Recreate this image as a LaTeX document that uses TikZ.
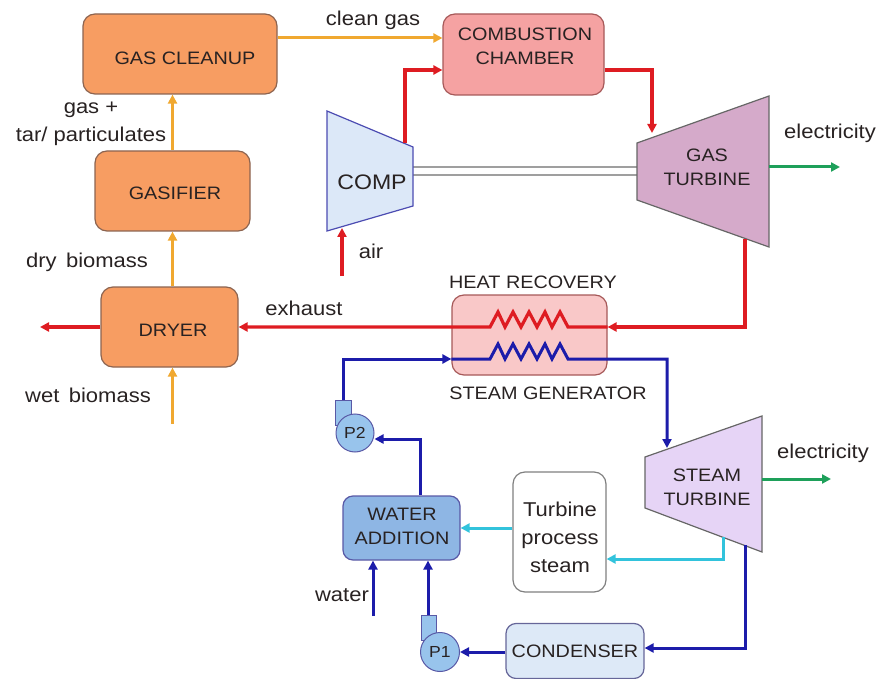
\documentclass[tikz,border=0pt]{standalone}
\usepackage{fontspec}
\setmainfont{Liberation Sans}[FakeStretch=1.1]
\usetikzlibrary{arrows.meta,calc}
\definecolor{orfill}{RGB}{247,157,98}
\definecolor{orline}{RGB}{140,100,80}
\definecolor{orflow}{RGB}{240,168,48}
\definecolor{redflow}{RGB}{222,28,34}
\definecolor{blueflow}{RGB}{28,28,170}
\definecolor{cyanflow}{RGB}{50,195,220}
\definecolor{greenflow}{RGB}{30,160,90}
\definecolor{combfill}{RGB}{245,162,162}
\definecolor{hrsgfill}{RGB}{249,200,200}
\definecolor{compfill}{RGB}{220,232,248}
\definecolor{gtfill}{RGB}{213,170,202}
\definecolor{stfill}{RGB}{230,212,246}
\definecolor{wafill}{RGB}{142,182,228}
\definecolor{condfill}{RGB}{221,233,247}
\definecolor{pumpfill}{RGB}{152,196,236}
\definecolor{txt}{RGB}{40,34,34}
\begin{document}
\begin{tikzpicture}[x=1pt,y=-1pt,
  boxtext/.style={font=\fontsize{18}{24}\selectfont, text=txt, align=center},
  lbl/.style={font=\fontsize{20}{24}\selectfont, text=txt, align=center},
  blk/.style={draw=orline, line width=1.2pt, rounded corners=12pt, inner sep=0pt, boxtext},
  tip/.style={-{Triangle[length=9pt,width=9pt]}},
  oflow/.style={draw=orflow, line width=3pt, tip},
  rflow/.style={draw=redflow, line width=3.2pt, tip},
  bflow/.style={draw=blueflow, line width=3pt, tip},
  cflow/.style={draw=cyanflow, line width=3pt, tip},
  gflow/.style={draw=greenflow, line width=3pt, tip},
  pump/.style={circle, draw=gray!70!blue, line width=1pt, fill=pumpfill, minimum size=38pt, inner sep=0pt, font=\fontsize{16}{18}\selectfont, text=txt}
]
\useasboundingbox (0,0) rectangle (881,679);

% boxes
\node[blk, fill=orfill, minimum width=194pt, minimum height=80pt] (cleanup) at (180,54) {};
\node[boxtext] (cleanuptxt) at (185,58) {GAS CLEANUP};
\node[blk, fill=orfill, minimum width=155pt, minimum height=80pt] (gasifier) at (172.5,191) {};
\node[boxtext] (gasifiertxt) at (175,193) {GASIFIER};
\node[blk, fill=orfill, minimum width=137pt, minimum height=80pt] (dryer) at (169.5,327) {};
\node[boxtext] (dryertxt) at (173,330) {DRYER};
\node[blk, draw=red!30!gray, fill=combfill, minimum width=161pt, minimum height=81pt] (comb) at (523.5,54.5) {};
\node[boxtext] (combtxt) at (525,46) {COMBUSTION\\CHAMBER};
\node[blk, draw=red!30!gray, fill=hrsgfill, minimum width=155pt, minimum height=80pt] (hrsg) at (529.5,335) {};
\node[blk, draw=gray, fill=white, minimum width=93pt, minimum height=120pt] (tps) at (559.5,532) {};
\node[boxtext, font=\fontsize{20}{28}\selectfont] (tpstxt) at (560,537) {Turbine\\process\\steam};
\node[blk, draw=blue!30!gray, fill=wafill, rounded corners=10pt, minimum width=117pt, minimum height=64pt] (wa) at (401.5,528) {};
\node[boxtext] (watxt) at (402,526) {WATER\\ADDITION};
\node[blk, draw=blue!20!gray, fill=condfill, rounded corners=10pt, minimum width=138pt, minimum height=55pt] (cond) at (575,651) {};
\node[boxtext] (condtxt) at (575,651) {CONDENSER};

% shaft
\draw[draw=gray!75, line width=1.6pt, double=white, double distance=6pt] (413,171) -- (637,171);

% compressor
\draw[draw=gray!60!blue, line width=1.2pt, fill=compfill] (327,111) -- (413,147) -- (413,206) -- (327,231) -- cycle;
\node[font=\fontsize{21}{24}\selectfont, text=txt] (comp) at (372,182) {COMP};
% gas turbine
\draw[draw=gray!80!black, line width=1.2pt, fill=gtfill] (637,143) -- (769,96) -- (769,247) -- (637,200) -- cycle;
\node[boxtext] (gt) at (707,167) {GAS\\TURBINE};
% steam turbine
\draw[draw=gray!80!black, line width=1.2pt, fill=stfill] (645,457) -- (762,416) -- (762,552) -- (645,508) -- cycle;
\node[boxtext] (st) at (707,487) {STEAM\\TURBINE};

% named attachment points
\coordinate (comptop) at (405,143);
\coordinate (compbot) at (342,228);
\coordinate (airin) at (342,276);
\coordinate (gttop) at (652,133);
\coordinate (gtbot) at (745,239);
\coordinate (gtout) at (769,167);
\coordinate (gtel) at (840,167);
\coordinate (sttop) at (667,448);
\coordinate (stout) at (762,479);
\coordinate (stel) at (831,479);
\coordinate (stbotc) at (723,537);
\coordinate (stbotb) at (745,545);
\coordinate (dryerout) at (40,327);
\coordinate (wetin) at (172.5,424);
\coordinate (waterin) at (373,616);

% pumps
\draw[draw=gray!70!blue, line width=1pt, fill=pumpfill] (335,400) rectangle (351,425);
\node[pump] (p2) at (355,433) {P2};
\draw[draw=gray!70!blue, line width=1pt, fill=pumpfill] (421,615) rectangle (436,640);
\node[pump, minimum size=39pt] (p1) at (440,652) {P1};
\coordinate (p2in) at (343,400);
\coordinate (p1out) at (428,615);

% orange flows
\draw[oflow] (wetin) -- (dryer.south -| wetin);
\draw[oflow] (dryer.north -| wetin) -- (gasifier.south -| wetin);
\draw[oflow] (gasifier.north -| wetin) -- (cleanup.south -| wetin);
\draw[oflow] (cleanup.east |- 0,38) -- (comb.west |- 0,38);

% red flows
\draw[rflow] (comptop) |- (comb.west |- 0,70);
\draw[rflow] (comb.east |- 0,70) -| (gttop);
\draw[rflow] (airin) -- (compbot);
\draw[rflow] (gtbot) |- (hrsg.east |- 0,327);
\draw[rflow] (hrsg.east |- 0,327) -- (568,327) -- (560,312) -- (552,327) -- (545,312) -- (537,327) -- (529,312) -- (521,327) -- (513,312) -- (505,327) -- (498,312) -- (490,327) -- (dryer.east |- 0,327);
\draw[rflow] (dryer.west |- 0,327) -- (dryerout);

% blue flows
\draw[bflow] (p2in) |- (hrsg.west |- 0,359);
\draw[bflow] (hrsg.west |- 0,359) -- (490,359) -- (498,344) -- (505,359) -- (513,344) -- (521,359) -- (529,344) -- (537,359) -- (545,344) -- (552,359) -- (560,344) -- (568,359) -| (sttop);
\draw[bflow] (stbotb) |- (cond.east |- 0,648);
\draw[bflow] (cond.west |- 0,652) -- (p1.east |- 0,652);
\draw[bflow] (p1out) -- (wa.south -| p1out);
\draw[bflow] (waterin) -- (wa.south -| waterin);
\draw[bflow] (wa.north -| 420,0) |- (p2.east |- 0,439);

% cyan flows
\draw[cflow] (stbotc) |- (tps.east |- 0,559);
\draw[cflow] (tps.west |- 0,528) -- (wa.east |- 0,528);

% green flows
\draw[gflow] (gtout) -- (gtel);
\draw[gflow] (stout) -- (stel);

% labels
\node[lbl] (lclean) at (373,20) {clean gas};
\node[lbl] (lgas) at (91,110) {gas +};
\node[lbl] (ltar) at (91,136) {tar/ particulates};
\node[lbl] (ldry) at (87,262) {dry\, biomass};
\node[lbl] (lwet) at (88,395) {wet\, biomass};
\node[lbl] (lexh) at (304,308) {exhaust};
\node[lbl] (lair) at (371,251) {air};
\node[lbl] (lel1) at (830,133) {electricity};
\node[lbl] (lel2) at (823,453) {electricity};
\node[lbl] (lwater) at (342,595) {water};
\node[boxtext] (lhr) at (533,282) {HEAT RECOVERY};
\node[boxtext] (lsg) at (548,393) {STEAM GENERATOR};
\end{tikzpicture}
\end{document}
